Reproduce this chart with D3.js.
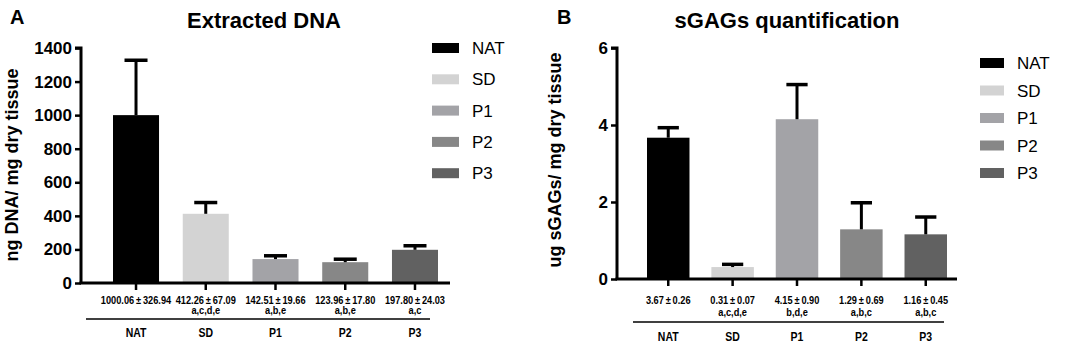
<!DOCTYPE html>
<html>
<head>
<meta charset="utf-8">
<script src="https://cdn.jsdelivr.net/npm/d3@7"></script>
<style>
  body { margin: 0; background: #fff; }
  svg { font-family: "Liberation Sans", Arial, sans-serif; }
</style>
</head>
<body>
<svg id="chart" width="1065" height="344"></svg>
<script>
// data
const groups = ['NAT', 'SD', 'P1', 'P2', 'P3']
const colors = ['#000000', '#d3d3d3', '#a3a3a7', '#878787', '#616161']

const dnaMean = [1000.06, 412.26, 142.51, 123.96, 197.80]
const dnaSd = [326.94, 67.09, 19.66, 17.80, 24.03]
const dnaLetters = ['', 'a,c,d,e', 'a,b,e', 'a,b,e', 'a,c']
const dnaTicks = [0, 200, 400, 600, 800, 1000, 1200, 1400]

const gagMean = [3.67, 0.31, 4.15, 1.29, 1.16]
const gagSd = [0.26, 0.07, 0.90, 0.69, 0.45]
const gagLetters = ['', 'a,c,d,e', 'b,d,e', 'a,b,c', 'a,b,c']
const gagTicks = [0, 2, 4, 6]

const svg = d3.select('#chart')

function drawPanel(opt){

    let g = svg.append('g')

    let x = d3.scaleBand().domain(groups)
        .range([opt.x0 + opt.pad, opt.x0 + opt.pad + groups.length * opt.step])
        .paddingInner(opt.inner).paddingOuter(0)

    let y = d3.scaleLinear().domain([0, opt.max]).range([opt.y0, opt.y1])

    // panel letter + title
    g.append('text').attr('x', opt.letterX).attr('y', 24)
        .attr('font-size', 20).attr('font-weight', 'bold').text(opt.letter)

    g.append('text').attr('x', opt.titleX).attr('y', 28)
        .attr('text-anchor', 'middle')
        .attr('font-size', 22).attr('font-weight', 'bold').text(opt.title)

    // y label
    g.append('text')
        .attr('transform', 'translate(' + opt.ylabX + ',' + opt.ylabY + ') rotate(-90)')
        .attr('text-anchor', 'middle')
        .attr('font-size', 18).attr('font-weight', 'bold').text(opt.ylab)

    // bars
    g.selectAll('.bar').data(groups).enter().append('rect')
        .attr('x', d => x(d))
        .attr('y', (d, i) => y(opt.mean[i]))
        .attr('width', x.bandwidth())
        .attr('height', (d, i) => y(0) - 1 - y(opt.mean[i]))
        .attr('fill', (d, i) => colors[i])

    // error bars (upper only)
    let cap = x.bandwidth() * 0.5
    groups.forEach(function(d, i){
        let cx = x(d) + x.bandwidth() / 2
        let top = y(opt.mean[i] + opt.sd[i])
        g.append('line').attr('x1', cx).attr('x2', cx)
            .attr('y1', y(opt.mean[i])).attr('y2', top)
            .attr('stroke', '#000').attr('stroke-width', 3)
        g.append('line').attr('x1', cx - cap / 2).attr('x2', cx + cap / 2)
            .attr('y1', top).attr('y2', top)
            .attr('stroke', '#000').attr('stroke-width', 3.5)
    })

    // y axis
    let ya = g.append('g')
        .attr('transform', 'translate(' + opt.x0 + ',0)')
        .call(d3.axisLeft(y).tickValues(opt.ticks).tickFormat(d3.format('d')).tickSize(6).tickPadding(3))
    ya.select('.domain').attr('stroke-width', 3).attr('d', 'M-6,' + y(opt.max) + 'H0V' + y(0))
    ya.selectAll('line').attr('stroke-width', 2.5)
    ya.selectAll('text').attr('font-size', 17).attr('font-weight', 'bold')
        .attr('font-family', '"Liberation Sans", Arial, sans-serif').attr('fill', '#000')

    // x axis
    g.append('line').attr('x1', opt.x0 - 1.5).attr('x2', opt.xEnd)
        .attr('y1', y(0)).attr('y2', y(0))
        .attr('stroke', '#000').attr('stroke-width', 3)

    // narrow-ish text under the axis
    function small(cx, ty, size, str){
        g.append('text')
            .attr('transform', 'translate(' + cx + ',' + ty + ') scale(0.84,1)')
            .attr('text-anchor', 'middle').attr('font-size', size).attr('font-weight', 'bold')
            .text(str)
    }

    groups.forEach(function(d, i){
        let cx = x(d) + x.bandwidth() / 2
        g.append('line').attr('x1', cx).attr('x2', cx)
            .attr('y1', y(0)).attr('y2', y(0) + 7)
            .attr('stroke', '#000').attr('stroke-width', 2.5)
        small(cx, 304, 11, opt.mean[i].toFixed(2) + '\u2009\u00b1\u2009' + opt.sd[i].toFixed(2))
        small(cx, opt.letY, 11, opt.letters[i])
        small(cx, opt.catY, 12.5, d)
    })

    g.append('line').attr('x1', opt.rule[0]).attr('x2', opt.rule[1])
        .attr('y1', opt.ruleY).attr('y2', opt.ruleY)
        .attr('stroke', '#000').attr('stroke-width', 1.5)

    // legend
    groups.forEach(function(d, i){
        let ly = opt.legY + i * opt.legStep
        g.append('rect').attr('x', opt.legX).attr('y', ly)
            .attr('width', opt.legW).attr('height', 10).attr('fill', colors[i])
        g.append('text').attr('x', opt.legX + opt.legW + 13).attr('y', ly + 11)
            .attr('font-size', 17).text(d)
    })
}

drawPanel({
    letter: 'A', letterX: 10, title: 'Extracted DNA', titleX: 264,
    ylab: 'ng DNA/ mg dry tissue', ylabX: 18, ylabY: 165,
    x0: 81, xEnd: 450, pad: 32, step: 65, inner: 0.34,
    y0: 283, y1: 48, max: 1400, ticks: dnaTicks,
    mean: dnaMean, sd: dnaSd, letters: dnaLetters,
    letY: 314, catY: 337, rule: [86, 430], ruleY: 319,
    legX: 432, legY: 43, legStep: 31.3, legW: 27
})

drawPanel({
    letter: 'B', letterX: 557, title: 'sGAGs quantification', titleX: 787,
    ylab: 'ug sGAGs/ mg dry tissue', ylabX: 561, ylabY: 160,
    x0: 617, xEnd: 957, pad: 30, step: 60, inner: 0.34,
    y0: 279, y1: 48, max: 6, ticks: gagTicks,
    mean: gagMean, sd: gagSd, letters: gagLetters,
    letY: 316, catY: 341, rule: [633, 944], ruleY: 322,
    legX: 980, legY: 58, legStep: 27.5, legW: 24
})
</script>
</body>
</html>
